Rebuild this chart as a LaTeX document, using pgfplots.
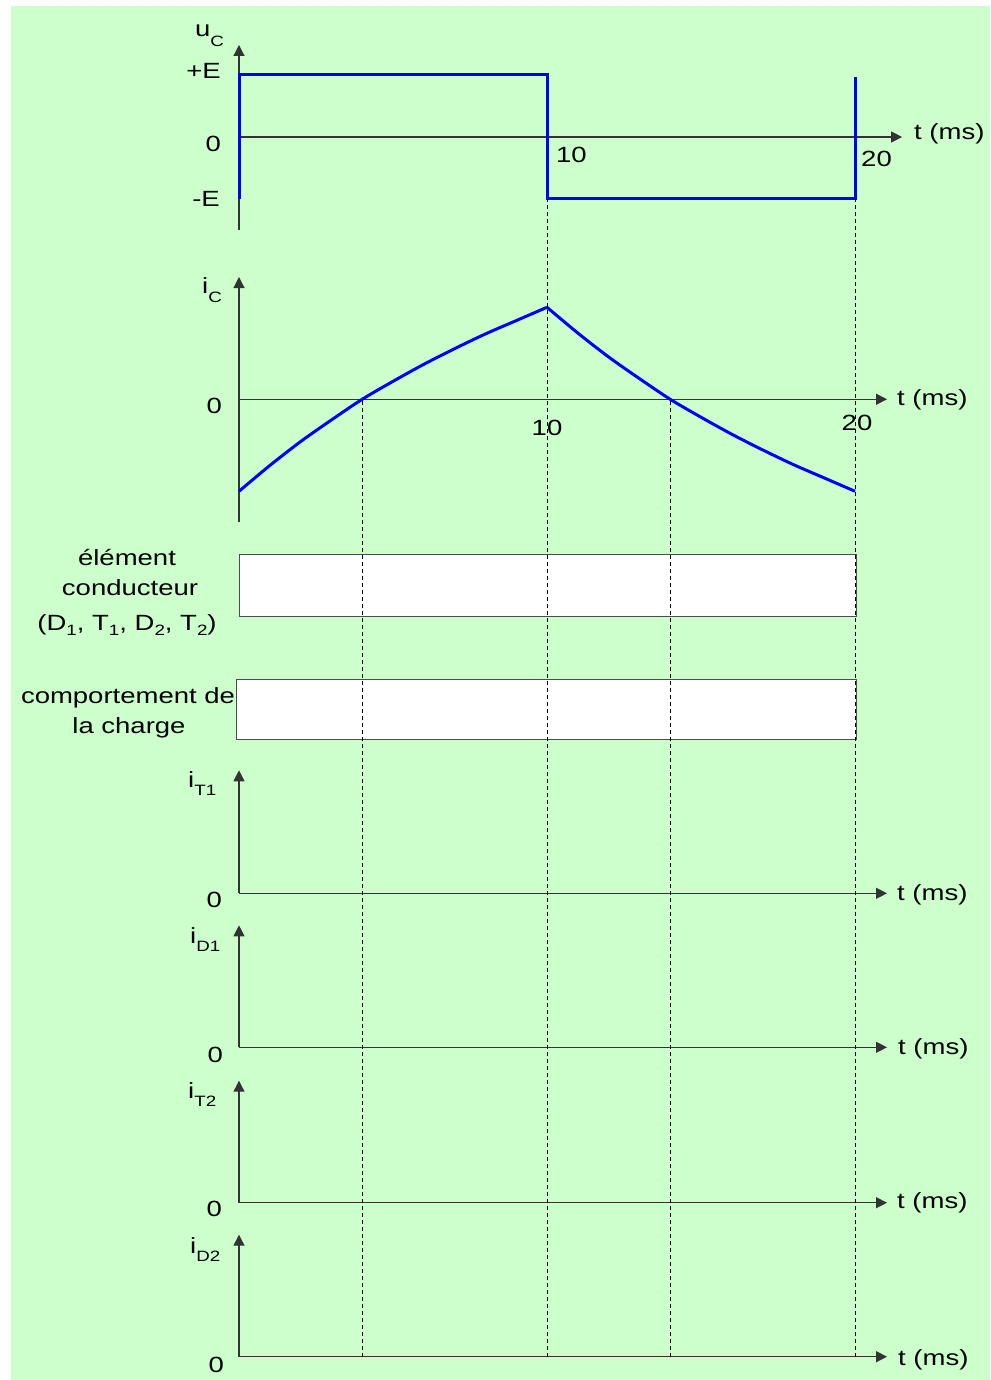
\documentclass[border=0pt]{standalone}
\usepackage{fontspec}
\setmainfont{Liberation Sans}[FakeStretch=1.25]
\usepackage{pgfplots}
\pgfplotsset{compat=1.18}
\usetikzlibrary{arrows.meta}
\definecolor{bg}{RGB}{204,255,204}
\definecolor{curve}{RGB}{0,0,255}
\newcommand{\sub}[2][8pt]{\raisebox{-#1}{\fontsize{15}{15}\selectfont #2}}
\pgfplotsset{
  panel/.style={
    anchor=south west, axis lines=middle, xtick=\empty, ytick=\empty, clip=false, xmin=0,
    axis line style={black!80, line width=1.2pt},
    every inner x axis line/.append style={-{Triangle[length=11pt,width=11pt]}},
    every inner y axis line/.append style={-{Triangle[length=11pt,width=11pt]}},
  },
  blueline/.style={curve, line width=3pt, no marks},
}
\begin{document}
\fontsize{22}{26}\selectfont
\begin{tikzpicture}
\useasboundingbox (0pt,0pt) rectangle (990pt,-1380pt);
\fill[white] (0pt,0pt) rectangle (990pt,-1380pt);
\fill[bg] (11pt,-6pt) rectangle (990pt,-1380pt);
% boxes
\draw[black!70, fill=white, line width=1pt] (239pt,-554pt) rectangle (856pt,-616pt);
\draw[black!70, fill=white, line width=1pt] (236pt,-679pt) rectangle (856pt,-739pt);

% ---- u_C
\begin{axis}[panel, at={(239pt,-230pt)}, x=30.8pt, y=62pt, xmax=21.53, ymin=-1.5, ymax=1.484]
\addplot[blueline, sharp plot] coordinates {(0,-1) (0,1) (10,1) (10,-1) (20,-1) (20,0.97)};
\end{axis}
\node[anchor=base west, inner sep=0] at (195pt,-37pt) {u\sub[10pt]{C}};
\node[anchor=base east, inner sep=0] at (221pt,-79pt) {+E};
\node[anchor=base east, inner sep=0] at (221pt,-152pt) {0};
\node[anchor=base east, inner sep=0] at (220pt,-207pt) {-E};
\node[anchor=base west, inner sep=0] at (556pt,-163pt) {10};
\node[anchor=base west, inner sep=0] at (861pt,-167pt) {20};
\node[anchor=base west, inner sep=0] at (914pt,-140pt) {t (ms)};

% ---- i_C
\begin{axis}[panel, at={(239pt,-522pt)}, x=30.8pt, y=92pt, xmax=21.04, ymin=-1.334, ymax=1.329]
\addplot[blueline, smooth] coordinates {(0,-1) (1,-0.72) (2,-0.46) (3,-0.225) (4,0) (5,0.195) (6,0.38) (7,0.55) (8,0.71) (9,0.855) (10,1)};
\addplot[blueline, smooth] coordinates {(10,1) (11,0.72) (12,0.46) (13,0.225) (14,0) (15,-0.195) (16,-0.38) (17,-0.55) (18,-0.71) (19,-0.855) (20,-1)};
\end{axis}
\node[anchor=base west, inner sep=0] at (202pt,-293pt) {i\sub[9pt]{C}};
\node[anchor=base east, inner sep=0] at (222pt,-413pt) {0};
\node[anchor=base, inner sep=0] at (547pt,-435pt) {10};
\node[anchor=base, inner sep=0] at (857pt,-430pt) {20};
\node[anchor=base west, inner sep=0] at (897pt,-405pt) {t (ms)};

% ---- left texts
\node[anchor=base, inner sep=0] at (127pt,-565pt) {élément};
\node[anchor=base, inner sep=0] at (130pt,-595pt) {conducteur};
\node[anchor=base, inner sep=0] at (127pt,-630pt) {(D\sub[5pt]{1}, T\sub[5pt]{1}, D\sub[5pt]{2}, T\sub[5pt]{2})};
\node[anchor=base, inner sep=0] at (128pt,-703pt) {comportement de};
\node[anchor=base, inner sep=0] at (129pt,-733pt) {la charge};

% ---- i_T1
\begin{axis}[panel, at={(239pt,-893.3pt)}, x=30.8pt, y=1pt, xmax=21.04, ymin=0, ymax=123]
\addplot[draw=none] coordinates {(0,0) (20,0)};
\end{axis}
\node[anchor=base west, inner sep=0] at (188pt,-787pt) {i\sub{T1}};
\node[anchor=base east, inner sep=0] at (222pt,-907pt) {0};
\node[anchor=base west, inner sep=0] at (897pt,-900pt) {t (ms)};

% ---- i_D1
\begin{axis}[panel, at={(239pt,-1047.3pt)}, x=30.8pt, y=1pt, xmax=21.04, ymin=0, ymax=122]
\addplot[draw=none] coordinates {(0,0) (20,0)};
\end{axis}
\node[anchor=base west, inner sep=0] at (190pt,-943pt) {i\sub{D1}};
\node[anchor=base east, inner sep=0] at (223pt,-1062pt) {0};
\node[anchor=base west, inner sep=0] at (898pt,-1054pt) {t (ms)};

% ---- i_T2
\begin{axis}[panel, at={(239pt,-1202.7pt)}, x=30.8pt, y=1pt, xmax=21.04, ymin=0, ymax=122]
\addplot[draw=none] coordinates {(0,0) (20,0)};
\end{axis}
\node[anchor=base west, inner sep=0] at (188pt,-1098pt) {i\sub{T2}};
\node[anchor=base east, inner sep=0] at (222pt,-1216pt) {0};
\node[anchor=base west, inner sep=0] at (897pt,-1208pt) {t (ms)};

% ---- i_D2
\begin{axis}[panel, at={(239pt,-1356.7pt)}, x=30.8pt, y=1pt, xmax=21.04, ymin=0, ymax=122]
\addplot[draw=none] coordinates {(0,0) (20,0)};
\draw[black, line width=0.9pt, dash pattern=on 4pt off 3pt] (axis cs:4,0) -- (axis cs:4,957.4);
\draw[black, line width=0.9pt, dash pattern=on 4pt off 3pt] (axis cs:10,0) -- (axis cs:10,1157.7);
\draw[black, line width=0.9pt, dash pattern=on 4pt off 3pt] (axis cs:14,0) -- (axis cs:14,957.4);
\draw[black, line width=0.9pt, dash pattern=on 4pt off 3pt] (axis cs:20,0) -- (axis cs:20,1157.7);
\end{axis}
\node[anchor=base west, inner sep=0] at (190pt,-1253pt) {i\sub{D2}};
\node[anchor=base east, inner sep=0] at (224pt,-1372pt) {0};
\node[anchor=base west, inner sep=0] at (898pt,-1365pt) {t (ms)};
\end{tikzpicture}
\end{document}
